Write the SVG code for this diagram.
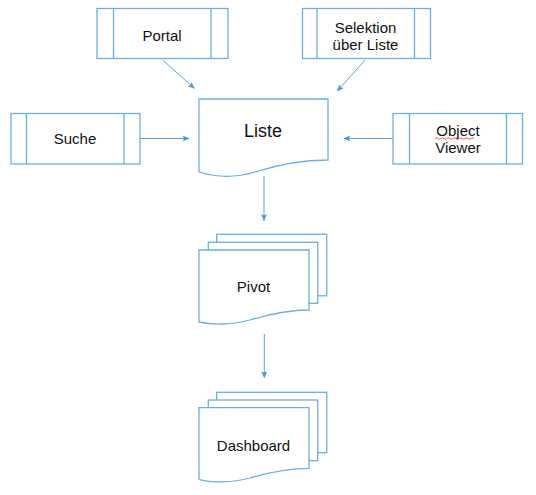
<svg xmlns="http://www.w3.org/2000/svg" width="536" height="495" viewBox="0 0 536 495">
<defs>
<style>
.b{fill:#fff;stroke:#6eb0d8;stroke-width:1.3}
.t{font-family:"Liberation Sans",Arial,sans-serif;font-size:15px;fill:#111;text-anchor:middle}
.c{stroke:#5aa6d6;stroke-width:1;fill:none}
</style>
<marker id="ah" viewBox="0 0 10 10" refX="9" refY="5" markerWidth="7" markerHeight="7" orient="auto" markerUnits="userSpaceOnUse">
<path d="M0,1 L10,5 L0,9 L2,5 Z" fill="#4a9ad0"/>
</marker>
</defs>
<rect width="536" height="495" fill="#fff"/>
<g id="portal">
<rect class="b" x="97" y="8.5" width="131" height="50"/>
<line class="b" x1="113.5" y1="8.5" x2="113.5" y2="58.5"/>
<line class="b" x1="211" y1="8.5" x2="211" y2="58.5"/>
<text class="t" x="162" y="41">Portal</text>
</g>
<g id="selektion">
<rect class="b" x="302.5" y="8.5" width="128" height="50"/>
<line class="b" x1="317" y1="8.5" x2="317" y2="58.5"/>
<line class="b" x1="414.5" y1="8.5" x2="414.5" y2="58.5"/>
<text class="t" x="365.5" y="33">Selektion</text>
<text class="t" x="365.5" y="50">über Liste</text>
</g>
<g id="suche">
<rect class="b" x="11" y="113.5" width="129" height="50.5"/>
<line class="b" x1="26.5" y1="113.5" x2="26.5" y2="164"/>
<line class="b" x1="124" y1="113.5" x2="124" y2="164"/>
<text class="t" x="75" y="144">Suche</text>
</g>
<g id="objectviewer">
<rect class="b" x="393" y="113.5" width="129.5" height="50.5"/>
<line class="b" x1="409.5" y1="113.5" x2="409.5" y2="164"/>
<line class="b" x1="506.5" y1="113.5" x2="506.5" y2="164"/>
<text class="t" x="458" y="135.5">Object</text>
<text class="t" x="458" y="153">Viewer</text>
<path d="M435,138.5 q1.5,-1.5 3,0 t3,0 t3,0 t3,0 t3,0 t3,0 t3,0 t3,0 t3,0 t3,0 t3,0 t3,0 t3,0" fill="none" stroke="#e33" stroke-width="0.8"/>
</g>
<g id="liste">
<path class="b" d="M199,99 H328 V160 C305,160 280,164 255,172 C235,178 215,177 199,172 Z"/>
<text class="t" x="263" y="137" style="font-size:18px">Liste</text>
</g>
<g id="pivot">
<rect class="b" x="216.7" y="234.3" width="110" height="61.5"/>
<rect class="b" x="208.3" y="242.3" width="109.4" height="61"/>
<path class="b" d="M199,250 H309 V310 C290,310 270,314 250,320 C232,325 212,325 199,322 Z"/>
<text class="t" x="253.5" y="292">Pivot</text>
</g>
<g id="dashboard">
<rect class="b" x="216.7" y="392.3" width="110" height="60.4"/>
<rect class="b" x="208.3" y="400" width="109.4" height="60.7"/>
<path class="b" d="M199,407.7 H309 V468.3 C290,468.3 270,472 250,478 C232,483 212,483 199,479.3 Z"/>
<text class="t" x="253.5" y="451">Dashboard</text>
</g>
<g id="connectors">
<line class="c" x1="162.7" y1="60" x2="194.3" y2="88.3" marker-end="url(#ah)"/>
<line class="c" x1="365" y1="60" x2="337.3" y2="91" marker-end="url(#ah)"/>
<line class="c" x1="140" y1="138.5" x2="189" y2="138.5" marker-end="url(#ah)"/>
<line class="c" x1="392.5" y1="138.5" x2="344" y2="138.5" marker-end="url(#ah)"/>
<line class="c" x1="264" y1="176" x2="264" y2="220.5" marker-end="url(#ah)"/>
<line class="c" x1="264.3" y1="334" x2="264.3" y2="377.7" marker-end="url(#ah)"/>
</g>
</svg>
